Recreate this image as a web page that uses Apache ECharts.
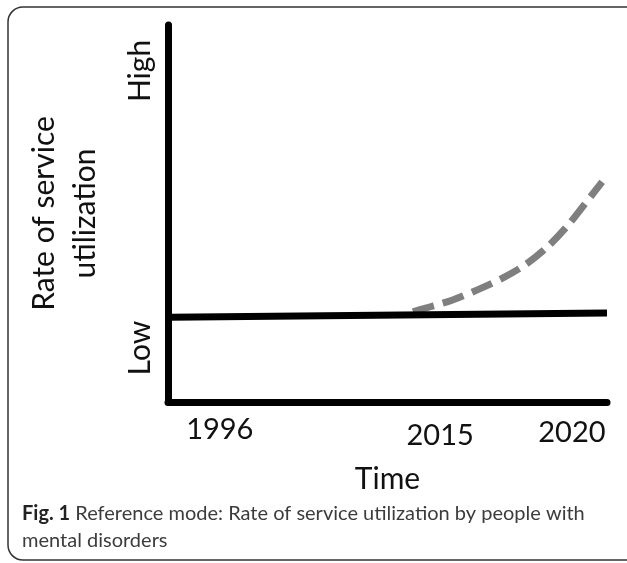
<!DOCTYPE html>
<html>
<head>
<meta charset="utf-8">
<script src="https://cdn.jsdelivr.net/npm/echarts@6/dist/echarts.min.js"></script>
<style>
html,body{margin:0;padding:0;background:#fff;}
#chart{width:627px;height:563px;}
</style>
</head>
<body>
<div id="chart"></div>
<script>
// Tick labels and their positions on the conceptual axes
const yearLabels = ['1996', '2015', '2020'];
const yearPositions = [11.8, 62.0, 92.0];
const levelLabels = ['Low', 'High'];
const levelPositions = [14.3, 87.8];

// Observed (flat) service utilization
const observedX = [0.5, 100];
const observedY = [22.5, 23.6];

// Projected (dashed) trend
const projectedX = [55.8, 58.3, 64.7, 70.6, 76.3, 81.5, 86.3, 90.9, 95.0, 98.9];
const projectedY = [23.9, 24.8, 27.0, 29.8, 32.9, 36.5, 41.0, 46.6, 52.6, 58.4];

const mainFont = 'Lato';
const labelStyleKeys = ['a', 'b', 'c'];
const chart = echarts.init(document.getElementById('chart'), null, {renderer: 'canvas'});

const option = {
  animation: false,
  backgroundColor: '#fff',
  grid: {left: 168, right: 20, top: 25, bottom: 161, containLabel: false, outerBoundsMode: 'none'},
  xAxis: {
    type: 'value', min: 0, max: 100,
    name: 'Time', nameLocation: 'middle', nameGap: 62,
    nameTextStyle: {fontFamily: mainFont, fontSize: 30, color: '#111'},
    axisLine: {show: true, onZero: false, lineStyle: {color: '#000', width: 7}},
    axisTick: {show: false},
    splitLine: {show: false},
    axisLabel: {
      customValues: yearPositions,
      margin: 13,
      fontFamily: mainFont, fontSize: 29, color: '#111',
      formatter: function (v) {
        let i = yearPositions.findIndex(p => Math.abs(p - v) < 1e-6);
        return i >= 0 ? '{' + labelStyleKeys[i] + '|' + yearLabels[i] + '}' : '';
      },
      rich: {
        a: {fontFamily: mainFont, fontSize: 29, color: '#111', padding: [0, 0, 0, 0]},
        b: {fontFamily: mainFont, fontSize: 29, color: '#111', padding: [6, 0, 0, 0]},
        c: {fontFamily: mainFont, fontSize: 29, color: '#111', padding: [3, 0, 0, 0]}
      }
    }
  },
  yAxis: {
    type: 'value', min: 0, max: 100,
    name: 'Rate of service\nutilization', nameLocation: 'middle', nameGap: 62,
    nameTextStyle: {fontFamily: mainFont, fontSize: 30, color: '#111', lineHeight: 41},
    axisLine: {show: true, onZero: false, lineStyle: {color: '#000', width: 7}},
    axisTick: {show: false},
    splitLine: {show: false},
    axisLabel: {
      customValues: levelPositions,
      rotate: 90,
      margin: 13,
      fontFamily: mainFont, fontSize: 30, color: '#111',
      formatter: function (v) {
        let i = levelPositions.findIndex(p => Math.abs(p - v) < 1e-6);
        return i >= 0 ? levelLabels[i] : '';
      }
    }
  },
  series: [
    {
      type: 'line',
      data: observedX.map((x, i) => [x, observedY[i]]),
      showSymbol: false,
      lineStyle: {color: '#000', width: 7},
      z: 3
    },
    {
      type: 'line',
      data: projectedX.map((x, i) => [x, projectedY[i]]),
      showSymbol: false,
      smooth: 0.3,
      lineStyle: {color: '#7f7f7f', width: 7, type: [22, 9]},
      z: 2
    }
  ],
  graphic: [
    {
      type: 'rect',
      shape: {x: 8, y: 7, width: 634, height: 553, r: 15},
      style: {fill: 'none', stroke: '#333', lineWidth: 1.5},
      silent: true
    },
    {
      type: 'text',
      left: 22, top: 500,
      style: {
        text: '{b|Fig. 1} Reference mode: Rate of service utilization by people with\nmental disorders',
        font: "20px Lato, sans-serif",
        fill: '#3c3c3c',
        lineHeight: 27,
        rich: {
          b: {fontWeight: 'bold', fontFamily: 'Lato', fontSize: 20, fill: '#222', lineHeight: 27}
        }
      }
    }
  ]
};
chart.setOption(option);
</script>
</body>
</html>
